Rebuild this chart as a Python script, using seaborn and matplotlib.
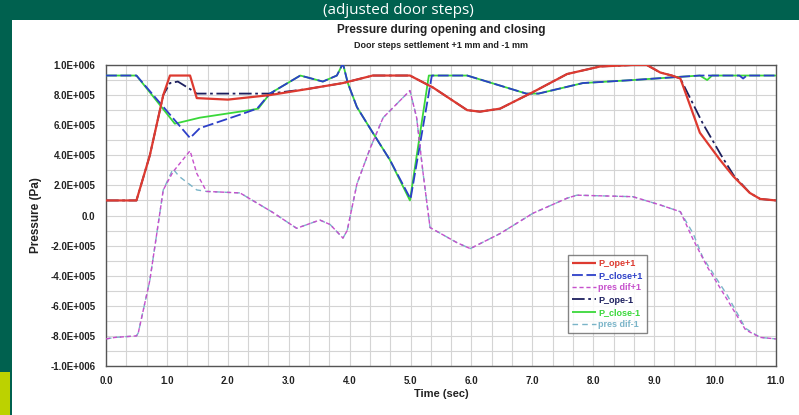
import numpy as np
import pandas as pd
import matplotlib
matplotlib.use("Agg")
import matplotlib.pyplot as plt
from matplotlib.patches import Rectangle
from matplotlib.ticker import MultipleLocator, FuncFormatter
import seaborn as sns

# ---------------- data (values in Pa) ----------------
t_ope_p = [0.0, 0.5, 0.72, 0.94, 1.05, 1.38, 1.49, 2.0, 2.69, 3.3, 3.89, 4.38, 4.99, 5.37, 5.93, 6.14, 6.47, 7.01, 7.57, 8.11, 8.65, 8.88, 9.1, 9.29, 9.43, 9.75, 10.08, 10.3, 10.57, 10.74, 11.0]
v_ope_p = [1.0e5, 1.0e5, 4.0e5, 8.0e5, 9.3e5, 9.3e5, 7.8e5, 7.7e5, 8.0e5, 8.4e5, 8.8e5, 9.3e5, 9.3e5, 8.5e5, 7.0e5, 6.9e5, 7.1e5, 8.2e5, 9.4e5, 9.9e5, 10.0e5, 10.0e5, 9.5e5, 9.3e5, 9.1e5, 5.5e5, 3.7e5, 2.6e5, 1.5e5, 1.1e5, 1.0e5]

t_close_p = [0.0, 0.5, 1.38, 1.54, 2.2, 2.48, 2.69, 3.19, 3.56, 3.79, 3.89, 3.97, 4.12, 4.38, 4.66, 5.0, 5.35, 5.93, 6.9, 7.1, 7.83, 8.65, 9.37, 9.75, 10.4, 10.46, 10.52, 11.0]
v_close_p = [9.3e5, 9.3e5, 5.15e5, 5.8e5, 6.7e5, 7.1e5, 8.1e5, 9.3e5, 8.9e5, 9.3e5, 10.1e5, 8.8e5, 7.2e5, 5.5e5, 3.7e5, 1.1e5, 9.3e5, 9.3e5, 8.1e5, 8.1e5, 8.8e5, 9.0e5, 9.2e5, 9.3e5, 9.3e5, 9.1e5, 9.3e5, 9.3e5]

t_dif_p = [0.0, 0.15, 0.5, 0.53, 0.72, 0.94, 1.1, 1.38, 1.49, 1.65, 2.2, 2.74, 3.13, 3.51, 3.68, 3.89, 3.96, 4.12, 4.34, 4.55, 4.99, 5.1, 5.2, 5.32, 5.76, 5.98, 6.47, 7.01, 7.57, 7.73, 8.65, 9.1, 9.43, 9.64, 9.87, 10.2, 10.5, 10.74, 11.0]
v_dif_p = [-8.2e5, -8.1e5, -8.0e5, -7.8e5, -4.3e5, 1.7e5, 2.9e5, 4.3e5, 2.8e5, 1.6e5, 1.5e5, 0.2e5, -0.85e5, -0.3e5, -0.6e5, -1.5e5, -1.0e5, 2.1e5, 4.5e5, 6.5e5, 8.3e5, 6.5e5, 3.0e5, -0.8e5, -1.8e5, -2.2e5, -1.2e5, 0.15e5, 1.15e5, 1.35e5, 1.25e5, 0.7e5, 0.25e5, -1.6e5, -3.4e5, -5.6e5, -7.6e5, -8.1e5, -8.2e5]

t_ope_m = [0.0, 0.5, 0.72, 0.94, 1.05, 1.18, 1.38, 1.49, 2.0, 2.69, 3.3, 3.89, 4.38, 4.99, 5.37, 5.93, 6.14, 6.47, 7.01, 7.57, 8.11, 8.65, 8.88, 9.1, 9.29, 9.43, 9.8, 10.1, 10.3, 10.57, 10.74, 11.0]
v_ope_m = [1.0e5, 1.0e5, 4.0e5, 8.0e5, 8.8e5, 8.9e5, 8.4e5, 8.1e5, 8.1e5, 8.1e5, 8.4e5, 8.8e5, 9.3e5, 9.3e5, 8.5e5, 7.0e5, 6.9e5, 7.1e5, 8.2e5, 9.4e5, 9.9e5, 10.0e5, 10.0e5, 9.5e5, 9.3e5, 9.1e5, 6.1e5, 4.0e5, 2.7e5, 1.5e5, 1.1e5, 1.0e5]

t_close_m = [0.0, 0.5, 1.13, 1.54, 2.36, 2.5, 2.69, 3.19, 3.56, 3.79, 3.89, 3.97, 4.12, 4.38, 4.66, 4.99, 5.3, 5.93, 6.9, 7.1, 7.83, 8.65, 9.37, 9.75, 9.87, 9.95, 11.0]
v_close_m = [9.3e5, 9.3e5, 6.1e5, 6.5e5, 7.0e5, 7.1e5, 8.1e5, 9.3e5, 8.9e5, 9.3e5, 10.1e5, 8.8e5, 7.2e5, 5.5e5, 3.7e5, 1.0e5, 9.3e5, 9.3e5, 8.1e5, 8.1e5, 8.8e5, 9.0e5, 9.2e5, 9.3e5, 9.0e5, 9.3e5, 9.3e5]

t_dif_m = [0.0, 0.15, 0.5, 0.53, 0.72, 0.94, 1.1, 1.2, 1.49, 1.65, 2.2, 2.74, 3.13, 3.51, 3.68, 3.89, 3.96, 4.12, 4.34, 4.55, 4.99, 5.1, 5.2, 5.32, 5.76, 5.98, 6.47, 7.01, 7.57, 7.73, 8.65, 9.1, 9.43, 9.64, 9.8, 10.2, 10.5, 10.74, 11.0]
v_dif_m = [-8.2e5, -8.1e5, -8.0e5, -7.8e5, -4.3e5, 1.7e5, 3.1e5, 2.6e5, 1.7e5, 1.6e5, 1.5e5, 0.2e5, -0.85e5, -0.3e5, -0.6e5, -1.5e5, -1.0e5, 2.1e5, 4.5e5, 6.5e5, 8.3e5, 6.5e5, 3.0e5, -0.8e5, -1.8e5, -2.2e5, -1.2e5, 0.15e5, 1.15e5, 1.35e5, 1.25e5, 0.7e5, 0.25e5, -1.2e5, -2.8e5, -5.3e5, -7.5e5, -8.1e5, -8.2e5]

# name, t, v, colour, dash, width, z-order
series = [
    ("P_ope+1", t_ope_p, v_ope_p, "#dd3a30", (0, ()), 1.6, 6),
    ("P_close+1", t_close_p, v_close_p, "#2c3fc8", (0, (6, 2)), 1.3, 4),
    ("pres dif+1", t_dif_p, v_dif_p, "#c650cc", (0, (3, 2)), 1.0, 5),
    ("P_ope-1", t_ope_m, v_ope_m, "#1c1f5e", (0, (7, 2, 1.5, 2)), 1.3, 3.5),
    ("P_close-1", t_close_m, v_close_m, "#3ad83a", (0, ()), 1.3, 3),
    ("pres dif-1", t_dif_m, v_dif_m, "#7ab4c8", (0, (4, 3)), 1.0, 2.5),
]

# ---------------- figure ----------------
sns.set_theme(style="white")
plt.rcParams["font.family"] = ["Liberation Sans", "DejaVu Sans"]

W, H = 799, 415
fig = plt.figure(figsize=(W / 100, H / 100), dpi=100)
fig.patch.set_facecolor("white")

# slide decorations
green = "#00614f"
fig.patches.append(Rectangle((0, 1 - 20 / H), 1, 20 / H, transform=fig.transFigure,
                             facecolor=green, edgecolor="none", zorder=0))
fig.patches.append(Rectangle((0, 0), 12 / W, 1, transform=fig.transFigure,
                             facecolor=green, edgecolor="none", zorder=0))
fig.patches.append(Rectangle((0, 0), 10 / W, (H - 372) / H, transform=fig.transFigure,
                             facecolor="#bcd200", edgecolor="none", zorder=1))
fig.text(398 / W, 1 - 10 / H, "(adjusted door steps)", color="white", fontsize=11,
         ha="center", va="center", family=["Open Sans", "DejaVu Sans"])

ax = fig.add_axes([106 / W, 1 - 366 / H, (776 - 106) / W, (366 - 65) / H])

for name, tt, vv, col, ls, lw, z in series:
    df = pd.DataFrame({"Time": tt, "Pressure": vv})
    sns.lineplot(data=df, x="Time", y="Pressure", ax=ax, color=col, linestyle=ls,
                 linewidth=lw, label=name, sort=False, estimator=None, zorder=z)

ax.set_xlim(0, 11)
ax.set_ylim(-1.0e6, 1.0e6)
ax.xaxis.set_major_locator(MultipleLocator(1))
ax.xaxis.set_minor_locator(MultipleLocator(1 / 3))
ax.yaxis.set_major_locator(MultipleLocator(2e5))
ax.yaxis.set_minor_locator(MultipleLocator(1e5))


def yfmt(v, pos):
    if abs(v) < 1:
        return "0.0"
    e = int(np.floor(np.log10(abs(v)) + 1e-9))
    m = v / 10 ** e
    return f"{m:.1f}E+{e:03d}"


ax.yaxis.set_major_formatter(FuncFormatter(yfmt))
ax.xaxis.set_major_formatter(FuncFormatter(lambda v, p: f"{v:.1f}"))
ax.grid(which="both", color="#d4d4d4", linewidth=0.8)
ax.set_axisbelow(True)
for s in ax.spines.values():
    s.set_color("#555555")
    s.set_linewidth(1.0)
ax.tick_params(which="both", direction="out", colors="#555555", labelcolor="#222222")
ax.tick_params(which="major", length=4, labelsize=7)
ax.tick_params(which="minor", length=2.5)
for lab in ax.get_xticklabels() + ax.get_yticklabels():
    lab.set_fontweight("bold")

ax.set_xlabel("Time (sec)", fontsize=8, fontweight="bold", color="#222222", labelpad=2)
ax.set_ylabel("Pressure (Pa)", fontsize=8.5, fontweight="bold", color="#222222", labelpad=6)

fig.text(441 / W, 1 - 30 / H, "Pressure during opening and closing", ha="center",
         va="center", fontsize=8.5, fontweight="bold", color="#222222")
fig.text(441 / W, 1 - 46 / H, "Door steps settlement +1 mm and -1 mm", ha="center",
         va="center", fontsize=6.5, fontweight="bold", color="#222222")

leg = ax.legend(loc="upper left", bbox_to_anchor=((563 - 106) / 670, (366 - 250) / 301),
                fontsize=6.5, frameon=True, fancybox=False, labelcolor="linecolor",
                handlelength=2.6, handletextpad=0.3, borderpad=0.5, labelspacing=0.35)
leg.get_frame().set_edgecolor("#666666")
leg.get_frame().set_linewidth(1.0)
leg.set_zorder(10)
for txt in leg.get_texts():
    txt.set_fontweight("bold")

fig.savefig("out.png", dpi=100, facecolor=fig.get_facecolor())
